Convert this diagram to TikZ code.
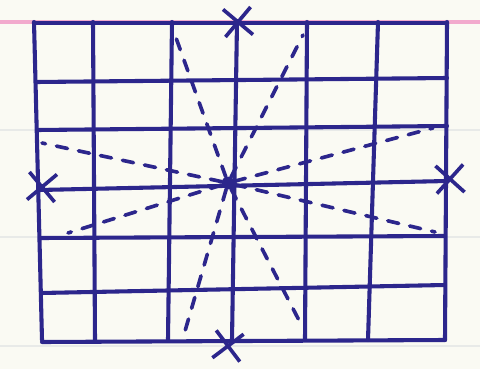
\documentclass[tikz,border=0pt]{standalone}
\usepackage{xcolor}
\usepackage{tikz}
\usetikzlibrary{shapes.misc}
\definecolor{inkblue}{RGB}{44,38,140}
\definecolor{paper}{RGB}{250,250,243}
\definecolor{marginpink}{RGB}{242,170,205}
\definecolor{rulegray}{RGB}{232,234,232}

\begin{document}
\begin{tikzpicture}[
    x=0.025cm, y=-0.025cm,
    gridline/.style={draw=inkblue, line width=2.9pt, line cap=round},
    ray/.style={draw=inkblue, line width=2.6pt, line cap=round, dash pattern=on 8pt off 8pt},
    xmark/.style={cross out, draw=inkblue, line width=2.6pt, inner sep=0pt, minimum size=0.6cm},
    hubdot/.style={circle, fill=inkblue, inner sep=0pt, minimum size=0.32cm}
]
\useasboundingbox (0,0) rectangle (480,369);
\fill[paper] (0,0) rectangle (480,369);
\draw[rulegray, line width=1pt] (0,130) -- (480,130);
\draw[rulegray, line width=1pt] (0,237) -- (480,237);
\draw[rulegray, line width=1pt] (0,346) -- (480,346);
\draw[marginpink, line width=2.2pt] (0,22) -- (480,22);

% grid
\foreach \xa/\xb in {34/42, 93/95, 172/168, 237/232, 307/305, 378/368, 447/445}
    \draw[gridline] (\xa,22) -- (\xb,340);
\foreach \ya/\yb/\xa/\xb in {23/23/34/447, 82/78/36/447, 130/126/37/447, 190/181/39/447,
                              238/236/40/445, 293/285/41/445, 342/340/42/445}
    \draw[gridline] (\xa,\ya) -- (\xb,\yb);

% centre and rays
\node[hubdot] (hub) at (228,183) {};
\coordinate (topleft) at (175,35);
\coordinate (topright) at (303,35);
\coordinate (leftup) at (42,143);
\coordinate (leftdown) at (68,233);
\coordinate (rightup) at (433,128);
\coordinate (rightdown) at (435,232);
\coordinate (bottomleft) at (183,338);
\coordinate (bottomright) at (303,328);
\draw[ray] (hub) -- (topleft);
\draw[ray] (hub) -- (topright);
\draw[ray] (hub) -- (leftup);
\draw[ray] (hub) -- (leftdown);
\draw[ray] (hub) -- (rightup);
\draw[ray] (hub) -- (rightdown);
\draw[ray] (hub) -- (bottomleft);
\draw[ray] (hub) -- (bottomright);

% crosses on the edges
\node[xmark, rotate=5] (crosstop) at (238,22) {};
\node[xmark, rotate=-5] (crossleft) at (42,187) {};
\node[xmark, rotate=3] (crossright) at (450,179) {};
\node[xmark, rotate=-8] (crossbottom) at (228,346) {};
\end{tikzpicture}
\end{document}
